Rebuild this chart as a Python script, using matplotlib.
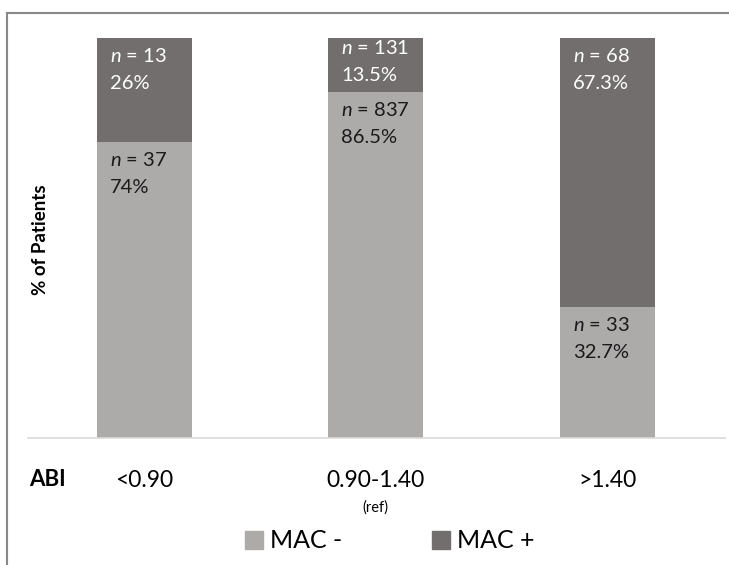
import matplotlib.pyplot as plt
from matplotlib.patches import Patch
from matplotlib.lines import Line2D

categories = ['<0.90', '0.90-1.40', '>1.40']
mac_neg_n = [37, 837, 33]
mac_pos_n = [13, 131, 68]
mac_neg_pct = [74, 86.5, 32.7]
mac_pos_pct = [26, 13.5, 67.3]

light = '#ADAAAA'
dark = '#736E6E'

plt.rcParams['font.family'] = ['Lato', 'DejaVu Sans']
plt.rcParams['mathtext.fontset'] = 'custom'
plt.rcParams['mathtext.it'] = 'Lato:italic'
plt.rcParams['mathtext.rm'] = 'Lato'

fig = plt.figure(figsize=(7.29, 5.65), dpi=100)
ax = fig.add_axes([28 / 729, 127 / 565, 697 / 729, 400 / 565])

x = list(range(len(categories)))
width = 0.41
ax.bar(x, mac_neg_pct, width, color=light, label='MAC -')
ax.bar(x, mac_pos_pct, width, bottom=mac_neg_pct, color=dark, label='MAC +')

ax.set_xlim(-0.503, 2.508)
ax.set_ylim(0, 100)

# labels sit at the top-left of each segment
for i in x:
    for bottom, pct, n, col in [(0, mac_neg_pct[i], mac_neg_n[i], '#1a1a1a'),
                                (mac_neg_pct[i], mac_pos_pct[i], mac_pos_n[i], 'white')]:
        top = bottom + pct
        off = -1 if pct < 15 else -9
        ax.annotate('$\\it{n}$ = %d\n%s%%' % (n, format(pct, 'g')),
                    xy=(i - width / 2, top), xytext=(13, off),
                    textcoords='offset pixels', ha='left', va='top',
                    fontsize=14.5, color=col, linespacing=1.7)

for s in ['top', 'right', 'left']:
    ax.spines[s].set_visible(False)
ax.spines['bottom'].set_color('#D9D9D9')
ax.spines['bottom'].set_linewidth(1.2)
ax.set_yticks([])
ax.set_xticks(x, categories, fontsize=16.5)
ax.tick_params(axis='x', length=0, pad=23)

fig.text(40 / 729, 1 - 240 / 565, '% of Patients', rotation=90, ha='center',
         va='center', fontsize=13.5, fontweight='bold')
fig.text(47 / 729, 1 - 480 / 565, 'ABI', ha='center', va='center',
         fontsize=16, fontweight='bold')
fig.text(375 / 729, 1 - 508 / 565, '(ref)', ha='center', va='center', fontsize=10.5)

handles = [Patch(color=light), Patch(color=dark)]
fig.legend(handles, ['MAC -', 'MAC +'], loc='center', ncol=2,
           bbox_to_anchor=(390 / 729, 1 - 541 / 565), frameon=False,
           fontsize=18, handlelength=0.7, handleheight=0.7,
           handletextpad=0.3, columnspacing=3.6)

# outer frame (only top and left edges visible)
fig.add_artist(Line2D([7 / 729, 1], [1 - 13 / 565, 1 - 13 / 565], color='#888888', lw=1.5))
fig.add_artist(Line2D([7 / 729, 7 / 729], [0, 1 - 13 / 565], color='#888888', lw=1.5))

fig.savefig('out.png', dpi=100)
